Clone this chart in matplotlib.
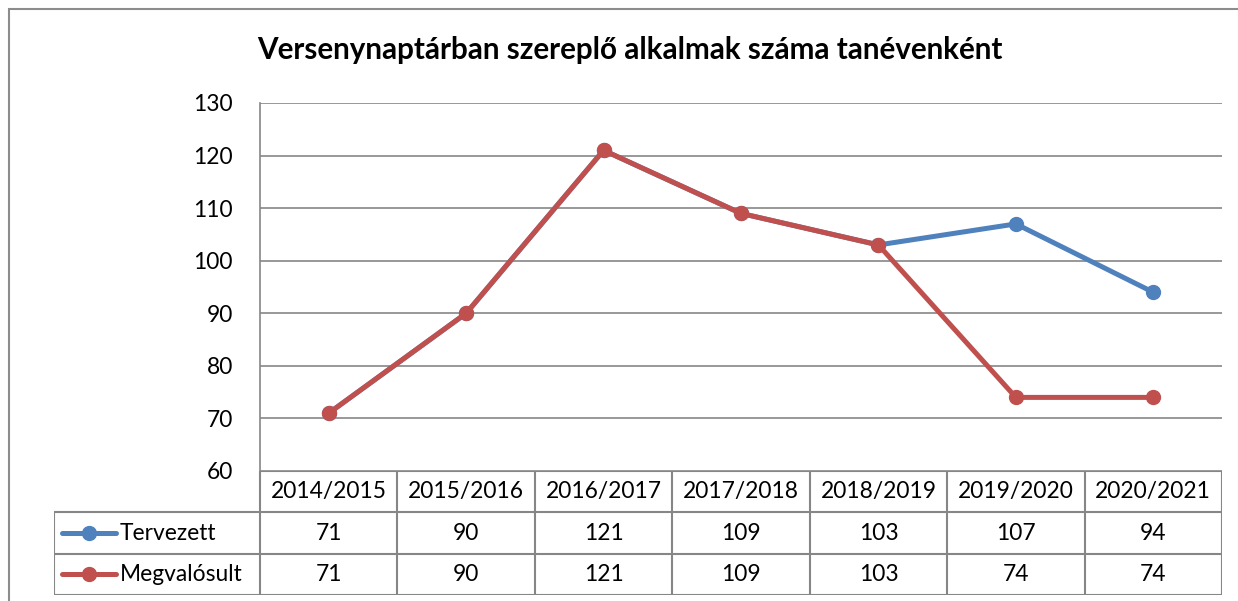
import matplotlib.pyplot as plt
from matplotlib.lines import Line2D
from matplotlib.patches import Rectangle

W, H = 1238, 601

years = ["2014/2015", "2015/2016", "2016/2017", "2017/2018",
         "2018/2019", "2019/2020", "2020/2021"]
tervezett = [71, 90, 121, 109, 103, 107, 94]
megvalosult = [71, 90, 121, 109, 103, 74, 74]
series_names = ["Tervezett", "Megvalósult"]
series_colors = ["#4F81BD", "#C0504D"]
y_ticks = [60, 70, 80, 90, 100, 110, 120, 130]

GRID = "#868686"
FS = 16.4
plt.rcParams["font.family"] = ["Lato", "DejaVu Sans"]


def px_axes(fig, left, top, right, bottom):
    return fig.add_axes([left / W, 1 - bottom / H, (right - left) / W, (bottom - top) / H])


fig = plt.figure(figsize=(W / 100, H / 100), dpi=100)

# outer chart border (runs off the right and bottom edges)
fig.patches.append(Rectangle((9 / W, -0.1), 1.2, 1 - 9 / H + 0.1, transform=fig.transFigure,
                             fill=False, edgecolor="#8c8c8c", linewidth=1.5))

fig.text(630 / W, 1 - 50 / H, "Versenynaptárban szereplő alkalmak száma tanévenként",
         ha="center", va="center", fontsize=21.3, fontweight="bold")

# line chart
ax = px_axes(fig, 260, 103, 1222, 471)
x = list(range(len(years)))
ax.set_xlim(-0.5, len(years) - 0.5)
ax.set_ylim(y_ticks[0], y_ticks[-1])
ax.set_yticks(y_ticks)
ax.set_xticks([])
ax.yaxis.grid(True, color=GRID, linewidth=1.2)
ax.set_axisbelow(True)
for side in ["top", "right", "bottom"]:
    ax.spines[side].set_visible(False)
ax.spines["left"].set_color(GRID)
ax.spines["left"].set_linewidth(1.2)
ax.tick_params(axis="y", length=0, pad=19.5, labelsize=FS)
for vals, color in zip([tervezett, megvalosult], series_colors):
    ax.plot(x, vals, color=color, linewidth=3.6, marker="o", markersize=10,
            solid_capstyle="round", clip_on=False)

# data table under the chart
leg_w = (260 - 54) / ((1222 - 260) / len(years))
tx = px_axes(fig, 54, 471, 1222, 595)
tx.set_xlim(-0.5 - leg_w, len(years) - 0.5)
tx.set_ylim(3, 0)
tx.axis("off")
lk = dict(color=GRID, linewidth=1.5, solid_capstyle="butt")
# horizontal rules
tx.plot([-0.5, len(years) - 0.5], [0, 0], **lk)
for r in [1, 2, 3]:
    tx.plot([-0.5 - leg_w, len(years) - 0.5], [r, r], **lk)
# vertical rules
for i in range(len(years) + 1):
    tx.plot([i - 0.5, i - 0.5], [0, 3], **lk)
tx.plot([-0.5 - leg_w, -0.5 - leg_w], [1, 3], **lk)

for i, label in enumerate(years):
    tx.text(i, 0.5, label, ha="center", va="center", fontsize=FS)
for r, (name, vals, color) in enumerate(zip(series_names, [tervezett, megvalosult], series_colors)):
    y = r + 1.5
    for i, v in enumerate(vals):
        tx.text(i, y, str(v), ha="center", va="center", fontsize=FS)
    x0 = -0.5 - leg_w + 8 / 137.4
    x1 = x0 + 54 / 137.4
    tx.add_line(Line2D([x0, x1], [y, y], color=color, linewidth=3.6, solid_capstyle="round"))
    tx.plot([(x0 + x1) / 2], [y], marker="o", markersize=10, color=color)
    tx.text(x1 + 4 / 137.4, y, name, ha="left", va="center", fontsize=FS)

fig.savefig("out.png", dpi=100)
